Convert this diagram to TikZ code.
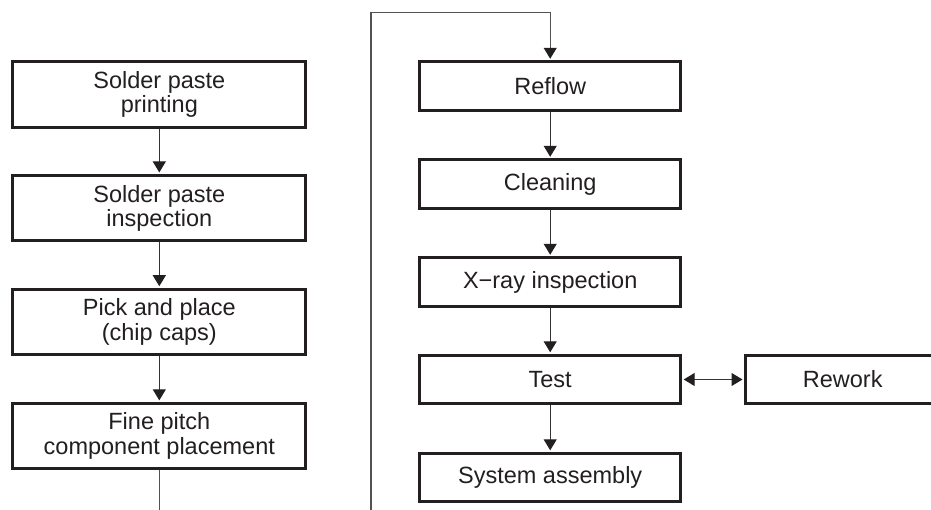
\documentclass[tikz,border=0pt]{standalone}
\usepackage{fontspec}
\setmainfont{Liberation Sans}
\usetikzlibrary{arrows.meta}
\definecolor{ink}{HTML}{231F20}
\definecolor{wire}{HTML}{333333}
\tikzset{
  procbox/.style={draw=ink, line width=3pt, fill=white, text=ink, align=center,
    inner sep=0pt, font=\fontsize{23.5}{24.5}\selectfont},
  leftbox/.style={procbox, minimum width=292.7pt, minimum height=65.5pt},
  rightbox/.style={procbox, minimum width=261pt, minimum height=48.4pt},
  tip/.tip={Triangle[width=13pt,length=11pt,color=ink]},
  flow/.style={draw=wire, line width=1.1pt, -tip, shorten >=1.5pt},
  flowboth/.style={draw=wire, line width=1.1pt, tip-tip, shorten >=1.5pt, shorten <=1.5pt},
  loopline/.style={draw=wire!85, line width=1.1pt, -tip, shorten >=1.5pt}
}
\begin{document}
\begin{tikzpicture}[x=1pt,y=-1pt]
\useasboundingbox (0,0) rectangle (931,510);
\node[leftbox] (b1) at (159.3,94.5) {Solder paste\\printing};
\node[leftbox] (b2) at (159.3,208.2) {Solder paste\\inspection};
\node[leftbox] (b3) at (159.3,322.0) {Pick and place\\(chip caps)};
\node[leftbox] (b4) at (159.3,436.1) {Fine pitch\\component placement};
\node[rightbox] (r1) at (550.2,86) {Reflow};
\node[rightbox] (r2) at (550.2,184) {Cleaning};
\node[rightbox] (r3) at (550.2,282) {X\textminus ray inspection};
\node[rightbox] (r4) at (550.2,379.5) {Test};
\node[rightbox] (r5) at (550.2,477.5) {System assembly};
\node[procbox, minimum width=194.4pt, minimum height=48pt] (rw) at (842.7,379.5) {Rework};
\coordinate (lb) at (159.3,530);
\coordinate (lc) at (371,530);
\coordinate (lt) at (371,12.7);
\draw[flow] (b1) -- (b2);
\draw[flow] (b2) -- (b3);
\draw[flow] (b3) -- (b4);
\draw[loopline] (b4.south) -- (lb) -- (lc) -- (lt) -| (r1.north);
\draw[flow] (r1) -- (r2);
\draw[flow] (r2) -- (r3);
\draw[flow] (r3) -- (r4);
\draw[flow] (r4) -- (r5);
\draw[flowboth] (r4) -- (rw);
\end{tikzpicture}
\end{document}
